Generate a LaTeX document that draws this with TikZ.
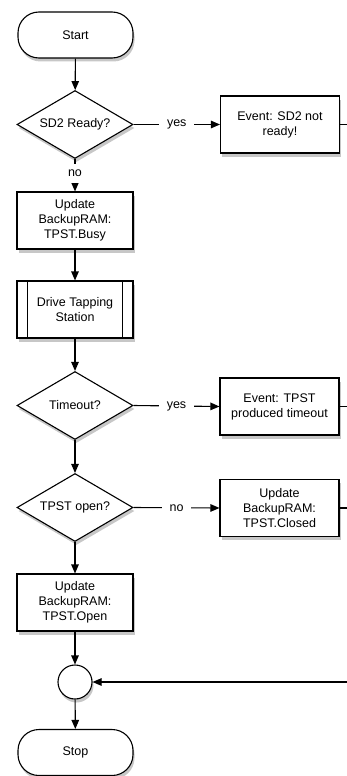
\documentclass[tikz,border=0pt]{standalone}
\usepackage{fontspec}
\setmainfont{Liberation Sans}
\usetikzlibrary{shapes.geometric,shadows,arrows.meta}
\begin{document}
\begin{tikzpicture}[x=1pt,y=-1pt,
  font=\fontsize{12.5}{15}\selectfont,
  every node/.style={align=center, inner sep=0pt},
  shad/.style={drop shadow={shadow xshift=1.5pt, shadow yshift=-3.5pt, opacity=0.22, fill=black}},
  base/.style={draw, line width=1.1pt, fill=white, shad},
  terminal/.style={base, rectangle, rounded corners=21pt, minimum width=115pt, minimum height=46pt},
  decision/.style={base, diamond, aspect=1.7, minimum width=116pt, minimum height=68pt},
  process/.style={base, rectangle, minimum width=116pt, minimum height=57pt},
  eventbox/.style={base, rectangle, minimum width=119pt, minimum height=57pt},
  junction/.style={base, circle, minimum size=34pt},
  arr/.style={-{Triangle[length=9pt,width=7.5pt]}, line width=1.1pt},
  plain/.style={line width=1.1pt},
  lbl/.style={fill=white, inner xsep=8pt, inner ysep=3pt}]
\fill[white] (0,0) rectangle (347,776);
\useasboundingbox (0,0) rectangle (347,776);

\node[terminal] (start) at (75.5,35) {Start};
\node[decision] (d1) at (75,124.5) {SD2 Ready?};
\node[eventbox] (e1) at (280,124.5) {Event: SD2 not\\ready!};
\node[process] (u1) at (75,220.5) {Update\\BackupRAM:\\TPST.Busy};
\node[process] (dts) at (75,309.5) {Drive Tapping\\Station};
\draw[plain] ([xshift=11pt]dts.north west) -- ([xshift=11pt]dts.south west);
\draw[plain] ([xshift=-11pt]dts.north east) -- ([xshift=-11pt]dts.south east);
\node[decision] (d2) at (75,405.5) {Timeout?};
\node[eventbox] (e2) at (279.5,406.5) {Event: TPST\\produced timeout};
\node[decision] (d3) at (75,507.5) {TPST open?};
\node[eventbox] (u3) at (279.5,508) {Update\\BackupRAM:\\TPST.Closed};
\node[process] (u2) at (75,602.5) {Update\\BackupRAM:\\TPST.Open};
\node[junction] (j) at (75,682) {};
\node[terminal] (stop) at (75.5,752.5) {Stop};

\coordinate (r1) at (347,124.5);
\coordinate (r2) at (347,406.5);
\coordinate (r3) at (347,508);
\coordinate (r4) at (347,682);

\draw[arr] (start) -- (d1);
\draw[arr] (d1.east) -- node[lbl] {yes} (e1.west);
\draw[plain] (e1.east) -- (r1);
\draw[arr] (d1.south) -- node[lbl, pos=0.45, inner ysep=6pt] {no} (u1.north);
\draw[arr] (u1) -- (dts);
\draw[arr] (dts) -- (d2);
\draw[arr] (d2.east) -- node[lbl] {yes} (e2.west);
\draw[plain] (e2.east) -- (r2);
\draw[arr] (d2) -- (d3);
\draw[arr] (d3.east) -- node[lbl] {no} (u3.west);
\draw[plain] (u3.east) -- (r3);
\draw[arr] (d3) -- (u2);
\draw[arr] (u2) -- (j);
\draw[arr] (r4) -- (j.east);
\draw[arr] (j) -- (stop);
\end{tikzpicture}
\end{document}
